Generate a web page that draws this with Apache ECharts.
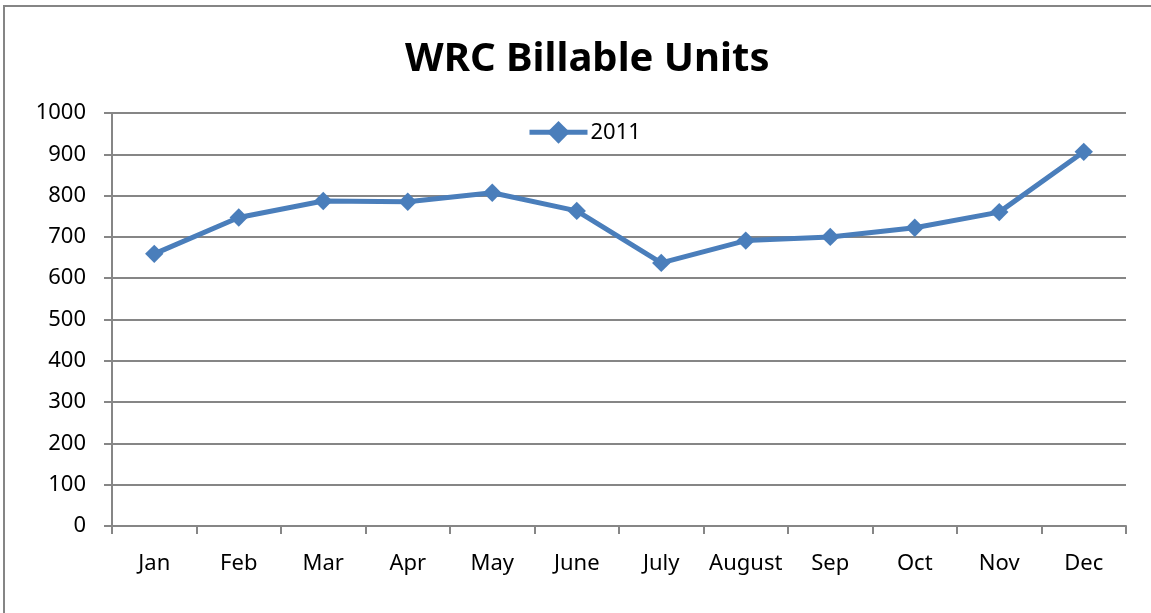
<!DOCTYPE html>
<html>
<head>
<meta charset="utf-8">
<script src="https://cdn.jsdelivr.net/npm/echarts@6/dist/echarts.min.js"></script>
<style>
html,body{margin:0;padding:0;background:#fff;}
#chart{width:1151px;height:613px;}
</style>
</head>
<body>
<div id="chart"></div>
<script>
var categories = ['Jan','Feb','Mar','Apr','May','June','July','August','Sep','Oct','Nov','Dec'];
var values2011 = [659, 747, 787, 785, 807, 763, 637, 691, 700, 722, 760, 906];
var seriesName = '2011';
var titleText = 'WRC Billable Units';

var chart = echarts.init(document.getElementById('chart'));
var font = 'Noto Sans';
chart.setOption({
  animation: false,
  backgroundColor: '#ffffff',
  title: {
    text: titleText,
    left: 400,
    top: 35,
    textStyle: {fontFamily: font, fontWeight: 'bold', fontSize: 40, color: '#000'}
  },
  legend: {
    data: [seriesName],
    left: 522,
    top: 116,
    itemWidth: 58,
    itemHeight: 20,
    itemGap: 6,
    lineStyle: {width: 5, color: '#4A7EBB'},
    textStyle: {fontFamily: font, fontSize: 22, color: '#000', padding: [0, 0, 0, -2]}
  },
  graphic: [{
    type: 'rect',
    shape: {x: 4, y: 6, width: 1160, height: 620},
    style: {fill: 'none', stroke: '#858585', lineWidth: 2},
    silent: true
  }],
  grid: {left: 112, right: 25, top: 113, bottom: 87},
  xAxis: {
    type: 'category',
    data: categories,
    boundaryGap: true,
    axisLine: {lineStyle: {color: '#868686', width: 2}},
    axisTick: {show: true, length: 8, lineStyle: {color: '#868686', width: 2}},
    axisLabel: {fontFamily: font, fontSize: 22, color: '#000', margin: 27, interval: 0}
  },
  yAxis: {
    type: 'value',
    min: 0, max: 1000, interval: 100,
    axisLine: {show: true, lineStyle: {color: '#868686', width: 2}},
    axisTick: {show: true, length: 8, lineStyle: {color: '#868686', width: 2}},
    splitLine: {lineStyle: {color: '#868686', width: 2}},
    axisLabel: {fontFamily: font, fontSize: 22, color: '#000', margin: 26,
      formatter: function (v) { return String(v); }}
  },
  series: [{
    name: seriesName,
    type: 'line',
    data: values2011,
    symbol: 'rect',
    symbolSize: 13,
    symbolRotate: 45,
    lineStyle: {color: '#4A7EBB', width: 5},
    itemStyle: {color: '#4A7EBB'}
  }]
});
</script>
</body>
</html>
